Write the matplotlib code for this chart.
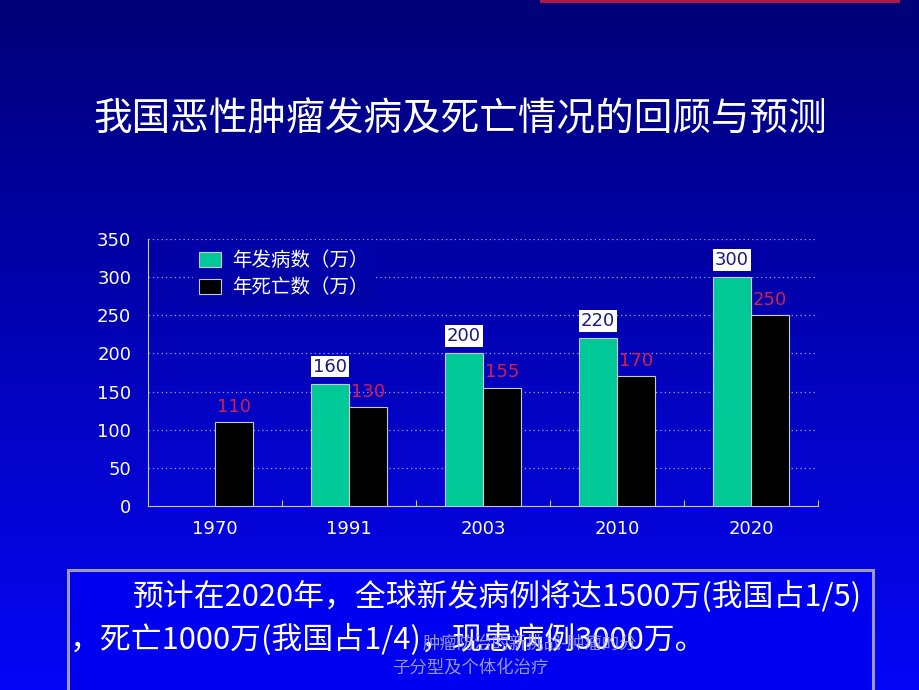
import numpy as np
import matplotlib
matplotlib.use("Agg")
import matplotlib.pyplot as plt
from matplotlib.patches import Rectangle

plt.rcParams['font.family'] = ['Noto Sans CJK SC', 'DejaVu Sans']

# ---- data ----
years = ["1970", "1991", "2003", "2010", "2020"]
incidence = [np.nan, 160, 200, 220, 300]   # 年发病数（万）
deaths = [110, 130, 155, 170, 250]         # 年死亡数（万）
yticks = [0, 50, 100, 150, 200, 250, 300, 350]

title = "我国恶性肿瘤发病及死亡情况的回顾与预测"
line1 = "预计在2020年，全球新发病例将达1500万(我国占1/5)"
line2 = "，死亡1000万(我国占1/4)，现患病例3000万。"
wm1 = "肿瘤防治的新挑战-肿瘤的分"
wm2 = "子分型及个体化治疗"

fig = plt.figure(figsize=(9.2, 6.9), dpi=100)

# background gradient
top = np.array([0.0, 0.0, 0.47])
bot = np.array([0.02, 0.02, 0.97])
def grad_color(ypix):
    t = ypix / 690.0
    return tuple(top + (bot - top) * t)

bg = fig.add_axes([0, 0, 1, 1], zorder=-10)
n = 256
t = np.linspace(0, 1, n)[:, None]
grad = top + (bot - top) * t
img = np.repeat(grad[:, None, :], 2, axis=1)
bg.imshow(img, aspect='auto', extent=[0, 1, 0, 1], origin='upper')
bg.set_xlim(0, 1); bg.set_ylim(0, 1)
bg.axis('off')

# top right red line
bg.add_patch(Rectangle((540/920, 1 - 3/690), 360/920, 3/690, color='#b01848', lw=0))

# title
fig.text(0.5, 1 - 119/690, title, color='white', fontsize=27.8,
         ha='center', va='center')

# chart axes
ax = fig.add_axes([148/920, 1 - 506/690, (818 - 148)/920, (506 - 239)/690])
ax.set_facecolor('none')
x = np.arange(len(years))
w = 0.285
green = '#00c896'
ax.bar(x - w/2, incidence, width=w, color=green, edgecolor='#c8c8d8', linewidth=0.8, zorder=3,
       label='年发病数（万）')
ax.bar(x + w/2, deaths, width=w, color='black', edgecolor='#c8c8d8', linewidth=0.8, zorder=3,
       label='年死亡数（万）')

for xi, v in zip(x, incidence):
    if not np.isnan(v):
        ax.annotate(f"{int(v)}", (xi - w/2, v), xytext=(0, 12.5), textcoords='offset points',
                    ha='center', va='center', fontsize=13, color='#1a1a80',
                    family='DejaVu Sans',
                    bbox=dict(boxstyle='square,pad=0.1', fc='white', ec='none'), zorder=5)
for xi, v in zip(x, deaths):
    ax.annotate(f"{int(v)}", (xi + w/2, v), xytext=(0, 11), textcoords='offset points',
                ha='center', va='center', fontsize=13, color='#d02050',
                family='DejaVu Sans', zorder=5)

ax.set_xlim(-0.5, len(years) - 0.5)
ax.set_ylim(0, 350)
ax.set_yticks(yticks)
ax.set_yticklabels([str(v) for v in yticks], color='white', fontsize=13, family='DejaVu Sans')
ax.tick_params(axis='y', length=0, pad=12)
ax.set_xticks(x)
ax.set_xticklabels(years, color='white', fontsize=13, family='DejaVu Sans')
ax.tick_params(axis='x', which='major', length=0, pad=10)
ax.set_xticks(list(np.arange(0.5, len(years) + 0.5, 1)), minor=True)
ax.tick_params(axis='x', which='minor', length=4, direction='in', color='#c8c8e0', width=0.8)

for yv in yticks[1:]:
    ax.axhline(yv, color='#a0a0ff', lw=0.9, ls=(0, (1, 2.5)), zorder=1)

for s in ['top', 'right']:
    ax.spines[s].set_visible(False)
for s in ['left', 'bottom']:
    ax.spines[s].set_color('#c8c8e0')
    ax.spines[s].set_linewidth(0.8)

leg = ax.legend(loc='upper left', bbox_to_anchor=(0.052, 1.02), frameon=True,
                handlelength=1.1, handleheight=0.85, handletextpad=0.6,
                labelspacing=0.3, fontsize=14, borderpad=0.35,
                facecolor=grad_color(265), edgecolor='none', framealpha=1)
for txt in leg.get_texts():
    txt.set_color('white')
leg.set_zorder(4)
leg.get_frame().set_linewidth(0)

# text box at bottom
bg.add_patch(Rectangle((68/920, -0.01), (873 - 68)/920, 0.01 + (690 - 570)/690,
                       fc='#0000f0', ec='#9a9ab8', lw=2.2, zorder=2))
fig.text(133/920, 1 - 597/690, line1, color='white', fontsize=22.2,
         ha='left', va='center')
fig.text(70/920, 1 - 640/690, line2, color='white', fontsize=22.2,
         ha='left', va='center')
# watermark
fig.text(530/920, 1 - 644/690, wm1, color='#b0b0e8', fontsize=12.5, ha='center', va='center', alpha=0.85)
fig.text(470/920, 1 - 667/690, wm2, color='#b0b0e8', fontsize=12.5, ha='center', va='center', alpha=0.85)

fig.savefig("out.png", dpi=100)
